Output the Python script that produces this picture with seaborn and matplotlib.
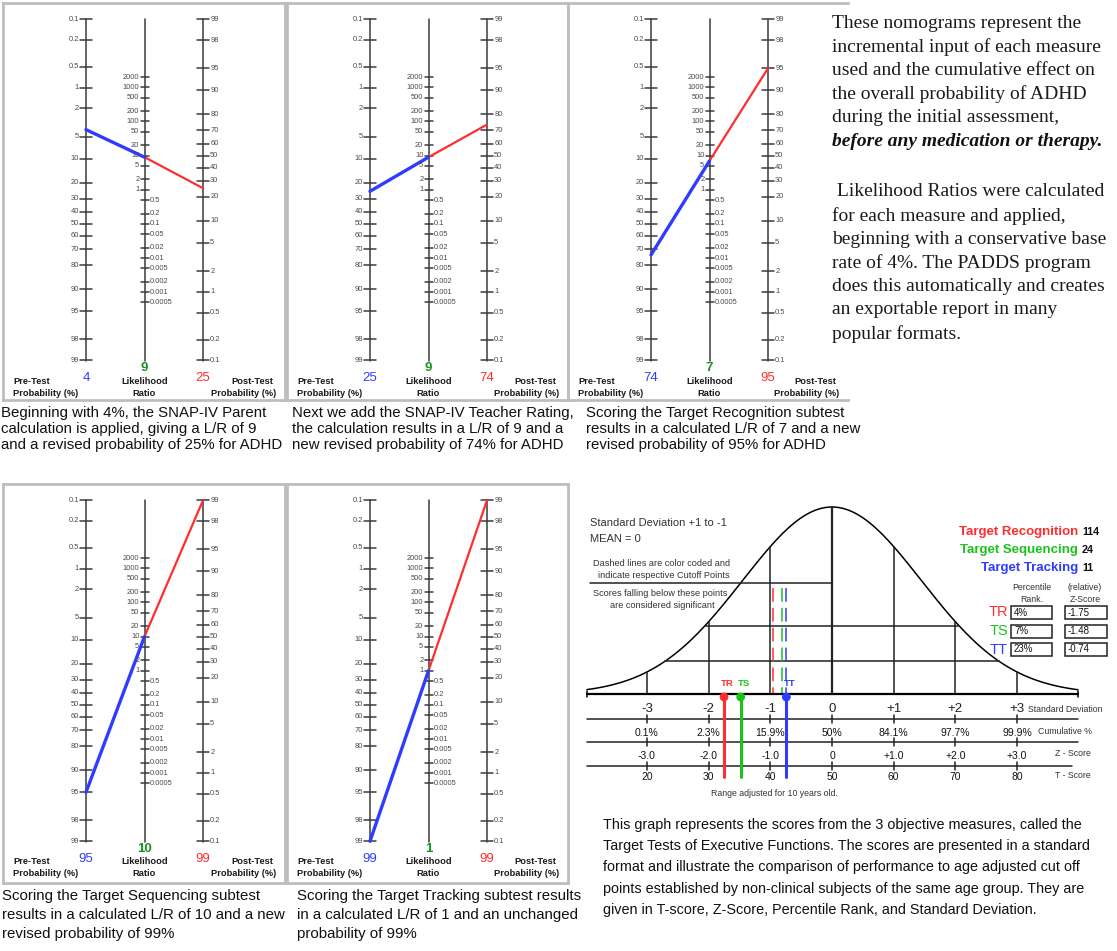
import numpy as np
import pandas as pd
import seaborn as sns
import matplotlib.pyplot as plt
from matplotlib.patches import Rectangle

W, H = 1117, 951

# --- nomogram values, one entry per panel ---
pre_test = [4, 25, 74, 95, 99]
likelihood_ratio = [9, 9, 7, 10, 1]
post_test = [25, 74, 95, 99, 99]

pre_ticks = [0.1, 0.2, 0.5, 1, 2, 5, 10, 20, 30, 40, 50, 60, 70, 80, 90, 95, 98, 99]
post_ticks = [99, 98, 95, 90, 80, 70, 60, 50, 40, 30, 20, 10, 5, 2, 1, 0.5, 0.2, 0.1]
lr_ticks = [2000, 1000, 500, 200, 100, 50, 20, 10, 5, 2, 1,
            0.5, 0.2, 0.1, 0.05, 0.02, 0.01, 0.005, 0.002, 0.001, 0.0005]

captions = [
    ["Beginning with 4%, the SNAP-IV Parent", "calculation is applied, giving a L/R of 9",
     "and a revised probability of 25% for ADHD"],
    ["Next we add the SNAP-IV Teacher Rating,", "the calculation results in a L/R of 9 and a",
     "new revised probability of 74% for ADHD"],
    ["Scoring the Target Recognition subtest", "results in a calculated L/R of 7 and a new",
     "revised probability of 95% for ADHD"],
    ["Scoring the Target Sequencing subtest", "results in a calculated L/R of 10 and a new",
     "revised probability of 99%"],
    ["Scoring the Target Tracking subtest results", "in a calculated L/R of 1 and an unchanged",
     "probability of 99%"],
]

# --- bell curve values ---
sd_steps = [-3, -2, -1, 0, 1, 2, 3]
sd_labels = ["-3", "-2", "-1", "0", "+1", "+2", "+3"]
cum_labels = ["0.1%", "2.3%", "15.9%", "50%", "84.1%", "97.7%", "99.9%"]
z_labels = ["-3.0", "-2.0", "-1.0", "0", "+1.0", "+2.0", "+3.0"]
t_labels = ["20", "30", "40", "50", "60", "70", "80"]

tests = ["TR", "TS", "TT"]
test_names = ["Target Recognition", "Target Sequencing", "Target Tracking"]
raw_scores = [114, 24, 11]
percentile = ["4%", "7%", "23%"]
z_scores = [-1.75, -1.48, -0.74]
cutoffs = [-0.96, -0.81, -0.74]

BLUE, RED, GREEN = "#2f3cff", "#ff2d2d", "#1f8f1f"
TEST_COL = ["#ff2d2d", "#19c419", "#2f3cff"]

sns.set_theme(style="white")
plt.rcParams["font.family"] = ["Liberation Sans", "DejaVu Sans"]

fig = plt.figure(figsize=(W / 100, H / 100), dpi=100)


def frac(x0, y0, x1, y1):
    return [x0 / W, 1 - y1 / H, (x1 - x0) / W, (y1 - y0) / H]


def logodds(p):
    return np.log10(p / (100 - p))


# nomogram geometry (pixels)
PX_X, PX_V, AX_OFF, TOP_OFF = 58.5, 68.3, 83, 16
boxes = [(3, 3, 285, 400), (287, 3, 568, 400), (568, 3, 848, 400),
         (3, 484, 285, 883), (287, 484, 568, 883)]
AXC, LABC = "#3a3a3a", "#4a4a4a"

for k, (x0, y0, x1, y1) in enumerate(boxes):
    ax = fig.add_axes(frac(x0, y0, x1, y1))
    ax.set_xlim(-AX_OFF / PX_X, (x1 - x0 - AX_OFF) / PX_X)
    ax.set_ylim(3 - (y1 - y0 - TOP_OFF) / PX_V, 3 + TOP_OFF / PX_V)

    for x in (0, 1, 2):
        ax.plot([x, x], [-2, 3], color=AXC, lw=1.1, zorder=1)
    t = 6 / PX_X
    for p in pre_ticks:
        v = -logodds(p)
        ax.plot([-t, t], [v, v], color=AXC, lw=1.1, zorder=1)
        ax.text(-t - 0.02, v, f"{p:g}", ha="right", va="center", fontsize=5.4, color=LABC)
    for p in post_ticks:
        v = logodds(p) + 1
        ax.plot([2 - t, 2 + t], [v, v], color=AXC, lw=1.1, zorder=1)
        ax.text(2 + t + 0.02, v, f"{p:g}", ha="left", va="center", fontsize=5.4, color=LABC)
    tm = 4 / PX_X
    for r in lr_ticks:
        v = (np.log10(r) + 1) / 2
        ax.plot([1 - tm, 1 + tm], [v, v], color=AXC, lw=1.1, zorder=1)
        if r >= 1:
            ax.text(1 - tm - 0.02, v, f"{r:g}", ha="right", va="center", fontsize=5.4, color=LABC)
        else:
            ax.text(1 + tm + 0.02, v, f"{r:g}", ha="left", va="center", fontsize=5.4, color=LABC)

    v_pre = -logodds(pre_test[k])
    v_lr = (np.log10(likelihood_ratio[k]) + 1) / 2
    v_post = logodds(post_test[k]) + 1
    seg_post = pd.DataFrame({"x": [1, 2], "v": [v_lr, v_post]})
    seg_pre = pd.DataFrame({"x": [0, 1], "v": [v_pre, v_lr]})
    sns.lineplot(data=seg_post, x="x", y="v", color=RED, lw=1.6, ax=ax)
    sns.lineplot(data=seg_pre, x="x", y="v", color=BLUE, lw=2.4, ax=ax)

    def vy(py):
        return 3 - (py - TOP_OFF) / PX_V

    ax.text(1, vy(365), f"{likelihood_ratio[k]}", ha="center", va="center",
            fontsize=9.5, color=GREEN, fontweight="bold")
    ax.text(0, vy(375), f"{pre_test[k]}", ha="center", va="center", fontsize=9.5, color=BLUE)
    ax.text(2, vy(375), f"{post_test[k]}", ha="center", va="center", fontsize=9.5, color=RED)
    lx0 = -AX_OFF / PX_X + 10 / PX_X
    lx1 = (x1 - x0 - AX_OFF - 9) / PX_X
    kw = dict(fontsize=6.7, fontweight="bold", color="#1a1a1a", va="center")
    ax.text(lx0, vy(378), "Pre-Test", ha="left", **kw)
    ax.text(lx0, vy(390), "Probability (%)", ha="left", **kw)
    ax.text(1, vy(378), "Likelihood", ha="center", **kw)
    ax.text(1, vy(390), "Ratio", ha="center", **kw)
    ax.text(lx1 - 3 / PX_X, vy(378), "Post-Test", ha="right", **kw)
    ax.text(lx1, vy(390), "Probability (%)", ha="right", **kw)

    ax.set_xlabel("")
    ax.set_ylabel("")
    ax.set_xticks([])
    ax.set_yticks([])
    for name, sp in ax.spines.items():
        sp.set_color("#bdbdbd")
        sp.set_linewidth(2)
    if k == 2:
        ax.spines["right"].set_visible(False)

# captions under the nomograms
cap_pos = [(1, [413, 429, 445]), (292, [413, 429, 445]), (586, [413, 429, 445]),
           (2, [896, 915, 934]), (297, [896, 915, 934])]
for lines, (cx, ys) in zip(captions, cap_pos):
    for line, yy in zip(lines, ys):
        fig.text(cx / W, 1 - yy / H, line, fontsize=10.8, color="#111111", va="center")

# right text block
para1 = ["These nomograms represent the", "incremental input of each measure",
         "used and the cumulative effect on", "the overall probability of ADHD",
         "during the initial assessment,"]
para2 = [" Likelihood Ratios were calculated", "for each measure and applied,",
         "beginning with a conservative base", "rate of 4%. The PADDS program",
         "does this automatically and creates", "an exportable report in many",
         "popular formats."]
serif = ["Liberation Serif", "DejaVu Serif"]
for i, line in enumerate(para1):
    fig.text(832 / W, 1 - (23 + 23.7 * i) / H, line, fontsize=14, family=serif,
             va="center", color="#1a1a1a")
fig.text(832 / W, 1 - (23 + 23.7 * 5) / H, "before any medication or therapy.", fontsize=14,
         family=serif, va="center", fontweight="bold", style="italic", color="#111111")
for i, line in enumerate(para2):
    fig.text(832 / W, 1 - (192 + 23.6 * i) / H, line, fontsize=14, family=serif,
             va="center", color="#1a1a1a")

# --- bell curve panel ---
CX, SDPX, BASE = 832, 61.7, 694
bx = fig.add_axes(frac(585, 498, 1117, 800))
bx.set_xlim((585 - CX) / SDPX, (1117 - CX) / SDPX)
bx.set_ylim(BASE - 800, BASE - 498)


def px(x):
    return (x - CX) / SDPX


def py(y):
    return BASE - y


PEAK, SPREAD = 187, 1.45
xs = np.linspace(px(587), px(1078), 400)
curve = pd.DataFrame({"sd": xs, "h": PEAK * np.exp(-xs ** 2 / (2 * SPREAD ** 2))})
sns.lineplot(data=curve, x="sd", y="h", color="black", lw=1.1, ax=bx)


def height(s):
    return PEAK * np.exp(-s ** 2 / (2 * SPREAD ** 2))


for s in sd_steps:
    bx.plot([s, s], [0, height(s)], color="#222222", lw=1.6 if s == 0 else 1.1)
bx.plot([px(590), 0], [py(583), py(583)], color="#222222", lw=1.1)
for lvl in (py(626), py(661)):
    xi = SPREAD * np.sqrt(2 * np.log(PEAK / lvl))
    bx.plot([-xi, xi], [lvl, lvl], color="#222222", lw=1.1)

for c, col in zip(cutoffs, TEST_COL):
    bx.plot([c, c], [py(588), 0], color=col, lw=1.1, dashes=(9, 4))

# baseline and scale lines
bx.plot([px(587), px(1078)], [0, 0], color="black", lw=1.6)
for xe in (px(587), px(1078)):
    bx.plot([xe, xe], [-3, 3], color="black", lw=1.1)
for yl, xend in ((719, 1078), (742, 1078), (766, 1072)):
    bx.plot([px(587), px(xend)], [py(yl), py(yl)], color="#222222", lw=1.1)
    for s in sd_steps:
        bx.plot([s, s], [py(yl) - 4, py(yl) + 4], color="#222222", lw=1.1)

for z, col in zip(z_scores, TEST_COL):
    bx.plot([z, z], [py(697), py(777)], color=col, lw=2.2)
sns.scatterplot(x=z_scores, y=[py(697)] * 3, hue=tests, palette=TEST_COL, s=40,
                legend=False, ax=bx, edgecolor="none", zorder=5)
for z, tname, col in zip(z_scores, tests, TEST_COL):
    bx.text(z + 3 / SDPX, py(683), tname, color=col, fontsize=6.8, fontweight="bold",
            ha="center", va="center")

for s, a, b, c, d in zip(sd_steps, sd_labels, cum_labels, z_labels, t_labels):
    bx.text(s, py(709), a, ha="center", va="center", fontsize=9.5, color="#222222")
    bx.text(s, py(733), b, ha="center", va="center", fontsize=7.5, color="#111111")
    bx.text(s, py(756), c, ha="center", va="center", fontsize=7.5, color="#111111")
    bx.text(s, py(777), d, ha="center", va="center", fontsize=7.5, color="#111111")

small = dict(fontsize=6.3, color="#333333", va="center", ha="left")
bx.text(px(1028), py(709), "Standard Deviation", clip_on=False, **small)
bx.text(px(1038), py(731), "Cumulative %", **small)
bx.text(px(1055), py(754), "Z - Score", **small)
bx.text(px(1055), py(776), "T - Score", **small)
bx.text(px(774), py(794), "Range adjusted for 10 years old.", fontsize=6.3, color="#333333",
        ha="center", va="center")

bx.text(px(590), py(523), "Standard Deviation +1 to -1", fontsize=8, color="#333333", va="center")
bx.text(px(590), py(539), "MEAN = 0", fontsize=8, color="#333333", va="center")
for txt, cx_, cy_ in (("Dashed lines are color coded and", 662, 564),
                      ("indicate respective Cutoff Points", 664, 576),
                      ("Scores falling below these points", 660, 593),
                      ("are considered significant", 662, 605)):
    bx.text(px(cx_), py(cy_), txt, fontsize=6.6, color="#333333", ha="center", va="center")

for i, (nm, sc, col) in enumerate(zip(test_names, raw_scores, TEST_COL)):
    yy = py(532 + 18 * i)
    bx.text(px(1078), yy, nm, color=col, fontsize=9.5, fontweight="bold", ha="right", va="center")
    bx.text(px(1082), yy, f"{sc}", color="#111111", fontsize=7.8, fontweight="bold",
            ha="left", va="center")

bx.text(px(1032), py(588), "Percentile", fontsize=6.3, color="#333333", ha="center", va="center")
bx.text(px(1032), py(599), "Rank.", fontsize=6.3, color="#333333", ha="center", va="center")
bx.text(px(1085), py(588), "(relative)", fontsize=6.3, color="#333333", ha="center", va="center")
bx.text(px(1085), py(599), "Z-Score", fontsize=6.3, color="#333333", ha="center", va="center")

for i, (tn, pr, zs, col) in enumerate(zip(tests, percentile, z_scores, TEST_COL)):
    top = 606 + 18.5 * i
    bx.text(px(1008), py(top + 6.5), tn, color=col, fontsize=10.5, ha="right", va="center")
    for bl, br, label in ((1011, 1052, pr), (1065, 1107, f"{zs:.2f}")):
        bx.add_patch(Rectangle((px(bl), py(top + 13)), (br - bl) / SDPX, 13,
                               fill=False, edgecolor="#222222", lw=1.1))
        bx.text(px(bl + 3), py(top + 6.5), label, fontsize=7, color="#111111",
                ha="left", va="center")

bx.set_xlabel("")
bx.set_ylabel("")
bx.axis("off")

para3 = ["This graph represents the scores from the 3 objective measures, called the",
         "Target Tests of Executive Functions. The scores are presented in a standard",
         "format and illustrate the comparison of performance to age adjusted cut off",
         "points established by non-clinical subjects of the same age group. They are",
         "given in T-score, Z-Score, Percentile Rank, and Standard Deviation."]
for i, line in enumerate(para3):
    fig.text(603 / W, 1 - (825 + 21.2 * i) / H, line, fontsize=10.4, color="#111111", va="center")

fig.savefig("out.png", dpi=100)
plt.close(fig)
